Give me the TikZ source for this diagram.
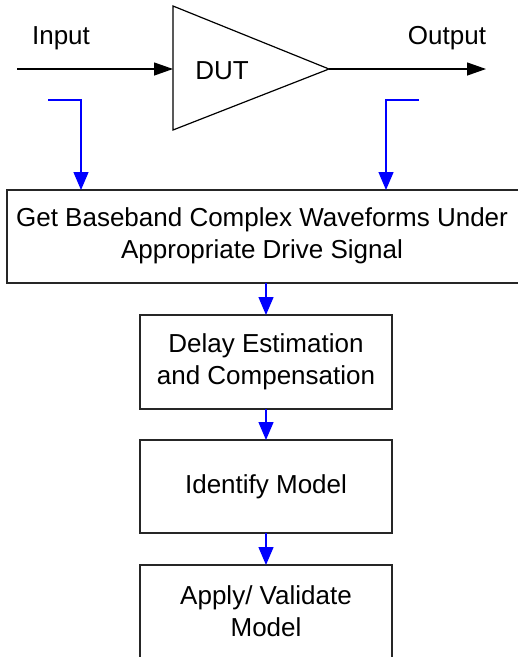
\documentclass[tikz,border=0pt]{standalone}
\usepackage{fontspec}
\setmainfont{Liberation Sans}
\usetikzlibrary{arrows.meta,positioning}
\tikzset{
  sig/.style={line width=1.3pt, -{Triangle[length=19pt,width=13pt]}},
  tap/.style={draw=blue, line width=1.3pt, -{Triangle[length=18pt,width=15pt]}},
  stage/.style={draw=black!85, line width=1.2pt},
  lbl/.style={font=\fontsize{26}{32}\selectfont, align=center, inner sep=0pt},
}
\begin{document}
\begin{tikzpicture}[x=1pt,y=-1pt]
  \useasboundingbox (0,0) rectangle (518,657);
  \clip (0,0) rectangle (518,657);
  % amplifier symbol
  \coordinate (inA) at (173,69);
  \coordinate (outA) at (329,69);
  \draw[line width=1.2pt] (173,6) -- (outA) -- (173,130) -- cycle;
  \node[lbl] (dut) at (222,71) {DUT};
  \coordinate (inS) at (17,69);
  \coordinate (outE) at (486,69);
  \draw[sig] (inS) -- (inA);
  \draw[sig] (outA) -- (outE);
  \node[lbl] (inL) at (61,38) {Input};
  \node[lbl] (outL) at (447,38) {Output};
  % measurement stages
  \draw[stage] (7,190) rectangle (520,283);
  \node[lbl] (s1) at (262,236) {Get Baseband Complex Waveforms Under\\Appropriate Drive Signal};
  \draw[stage] (140,315) rectangle (392,409);
  \node[lbl] (s2) at (266,362) {Delay Estimation\\and Compensation};
  \draw[stage] (140,440) rectangle (392,533);
  \node[lbl] (s3) at (266,487) {Identify Model};
  \draw[stage] (140,565) rectangle (392,670);
  \node[lbl] (s4) at (266,611) {Apply/ Validate\\Model};
  % coupler taps
  \coordinate (t1) at (48,100);
  \coordinate (t2) at (419,100);
  \draw[tap] (t1) -- (81,100) -- (81,190);
  \draw[tap] (t2) -- (386,100) -- (386,190);
  \coordinate (a1) at (266,283);
  \coordinate (b1) at (266,315);
  \coordinate (a2) at (266,409);
  \coordinate (b2) at (266,440);
  \coordinate (a3) at (266,533);
  \coordinate (b3) at (266,565);
  \draw[tap] (a1) -- (b1);
  \draw[tap] (a2) -- (b2);
  \draw[tap] (a3) -- (b3);
\end{tikzpicture}
\end{document}
